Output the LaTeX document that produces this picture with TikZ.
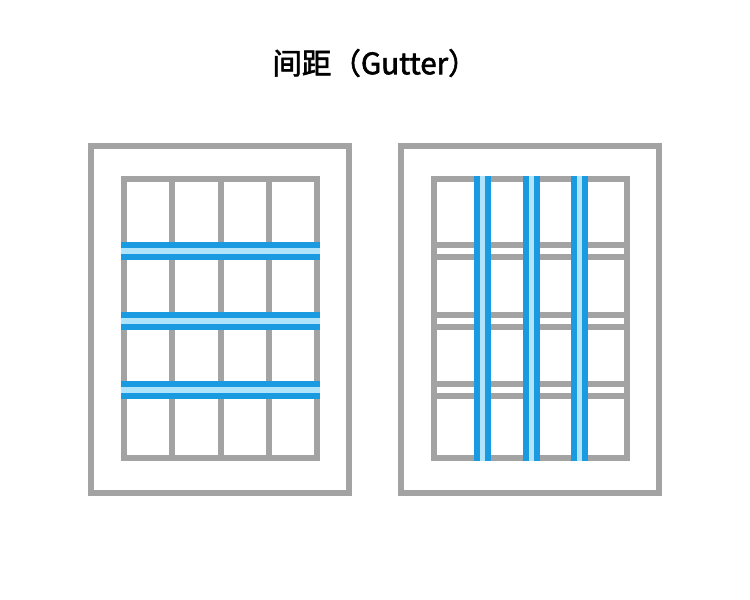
\documentclass[tikz,border=0pt]{standalone}
\usepackage{fontspec}
\newfontfamily\cjk[FakeBold=2]{Noto Sans CJK SC}
\definecolor{gridgray}{HTML}{A3A3A3}
\definecolor{gutdark}{HTML}{1A9AE0}
\definecolor{gutlight}{HTML}{B0E4FB}
\tikzset{
  frame/.style={draw=gridgray, line width=6pt},
  gline/.style={draw=gridgray, line width=6pt},
  gdark/.style={fill=gutdark},
  glight/.style={fill=gutlight},
}
\begin{document}
\begin{tikzpicture}[x=1pt,y=-1pt]
\useasboundingbox (0,0) rectangle (750,600);
\fill[white] (0,0) rectangle (750,600);
% title
\node[font=\cjk\fontsize{29.5}{34}\selectfont, anchor=center] (title) at (375,63) {间距（Gutter）};
% ---------- left panel ----------
\draw[frame] (91,146) rectangle (349,493);
\draw[gline] (124,179) rectangle (317,458);
\foreach \x in {172,221,269} \draw[gline] (\x,179) -- (\x,458);
\foreach \y in {242,312,381} {
  \fill[gdark] (121,\y) rectangle (320,\y+18);
  \fill[glight] (121,\y+6) rectangle (320,\y+12);
}
% ---------- right panel ----------
\draw[frame] (401,146) rectangle (659,493);
\draw[gline] (434,179) rectangle (627,458);
\foreach \y in {245,257,315,327,384,396} \draw[gline] (431,\y) -- (630,\y);
\foreach \x in {474,523,571} {
  \fill[gdark] (\x,176) rectangle (\x+17,461);
  \fill[glight] (\x+6,176) rectangle (\x+11,461);
}
\end{tikzpicture}
\end{document}
